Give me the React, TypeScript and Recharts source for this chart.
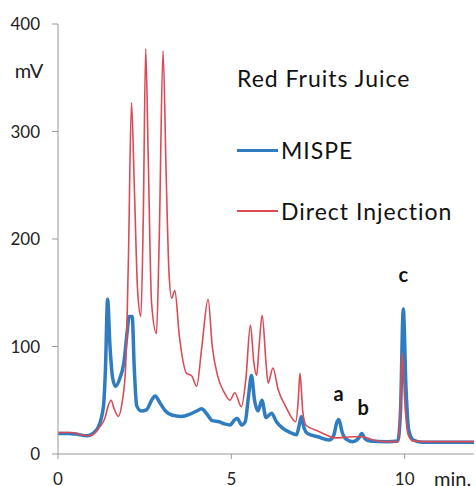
import { LineChart, Line, XAxis, YAxis, Legend, ReferenceDot } from "recharts";

// chromatogram traces, time in min, signal in mV
const mispeTime = [0, 0.3, 0.5, 0.85, 1.0, 1.16, 1.31, 1.37, 1.43, 1.5, 1.58, 1.66, 1.78, 1.9, 2.0, 2.05, 2.14, 2.2, 2.27, 2.4, 2.55, 2.7, 2.8, 2.95, 3.1, 3.3, 3.55, 3.8, 4.0, 4.14, 4.3, 4.45, 4.65, 4.8, 4.96, 5.1, 5.17, 5.3, 5.4, 5.5, 5.58, 5.67, 5.77, 5.88, 6.0, 6.16, 6.3, 6.48, 6.7, 6.88, 6.96, 7.02, 7.1, 7.2, 7.5, 7.82, 7.95, 8.05, 8.1, 8.2, 8.3, 8.5, 8.68, 8.76, 8.86, 9.0, 9.5, 9.8, 9.88, 9.96, 10.04, 10.12, 10.25, 10.5, 11, 12];
const mispeMv = [19, 19, 18.5, 17, 19, 25, 44, 80, 144, 100, 70, 63, 70, 85, 115, 128, 128, 80, 45, 40, 41, 50, 54, 47, 40, 36, 35, 37, 40, 42, 37, 31, 30, 28, 27, 32, 33, 27, 30, 55, 73, 50, 40, 50, 34, 38, 30, 24, 20, 18, 27, 35, 24, 19, 16, 13, 17, 30, 32, 20, 14, 11.5, 15, 19, 14, 12, 11.5, 12, 40, 135, 60, 22, 13, 11, 11, 11];

const directTime = [0, 0.4, 0.6, 0.85, 1.0, 1.2, 1.35, 1.45, 1.53, 1.62, 1.74, 1.85, 1.95, 2.03, 2.12, 2.2, 2.3, 2.39, 2.46, 2.53, 2.6, 2.7, 2.84, 2.92, 3.03, 3.12, 3.2, 3.28, 3.37, 3.5, 3.71, 3.85, 4.0, 4.15, 4.33, 4.45, 4.61, 4.8, 4.96, 5.1, 5.29, 5.42, 5.55, 5.65, 5.73, 5.8, 5.89, 6.0, 6.06, 6.2, 6.35, 6.57, 6.86, 6.93, 6.98, 7.06, 7.15, 7.53, 8.01, 8.49, 8.78, 9.1, 9.45, 9.8, 9.86, 9.93, 10.0, 10.1, 10.25, 11, 12];
const directMv = [20, 20, 18.5, 17, 18, 25, 33, 45, 50, 42, 35, 48, 80, 180, 327, 250, 150, 128, 220, 377, 280, 140, 112, 200, 375, 260, 170, 145, 152, 110, 75, 73, 63, 100, 144, 100, 72, 57, 50, 57, 44, 70, 120, 85, 73, 100, 129, 85, 66, 80, 60, 44, 30, 50, 75, 40, 27, 21, 15, 16, 16, 13, 11.5, 11.5, 30, 94, 50, 18, 12, 11.5, 11.5];

const peakNames = ["a", "b", "c"];
const peakTime = [8.09, 8.8, 9.96];
const peakMv = [32, 19, 135];

const yTicks = [0, 100, 200, 300, 400];
const xTicks = [0, 5, 10];

const BLUE = "#2f7dc0";
const RED = "#dc4a55";
const FONT = "Lato, 'Open Sans', sans-serif";

const mispeData = mispeTime.map((t, i) => ({ t, v: mispeMv[i] }));
const directData = directTime.map((t, i) => ({ t, v: directMv[i] }));

const renderLegend = () => (
  <div style={{ fontFamily: FONT, color: "#111", letterSpacing: 1 }}>
    <div style={{ fontSize: 23, lineHeight: "28px", marginBottom: 44 }}>Red Fruits Juice</div>
    {[
      { name: "MISPE", color: BLUE, w: 3 },
      { name: "Direct Injection", color: RED, w: 2 },
    ].map((s) => (
      <div key={s.name} style={{ display: "flex", alignItems: "center", height: 28, marginBottom: 33, fontSize: 23 }}>
        <span style={{ display: "inline-block", width: 41, height: s.w, background: s.color, marginRight: 3 }} />
        {s.name}
      </div>
    ))}
  </div>
);

function App() {
  return (
    <div style={{ position: "absolute", left: 0, top: 0, background: "#fff" }}>
      <LineChart width={476} height={486} margin={{ top: 24, right: 2, bottom: 0, left: 0 }}>
        <XAxis
          dataKey="t"
          type="number"
          domain={[0, 12]}
          ticks={xTicks}
          allowDataOverflow
          height={32}
          stroke="#999"
          tickSize={5}
          tickMargin={14}
          tick={{ fill: "#222", fontSize: 17, fontFamily: FONT }}
          label={{ content: () => <text x={434} y={486} fontSize={20} fontFamily={FONT} fill="#222">min.</text> }}
        />
        <YAxis
          dataKey="v"
          type="number"
          domain={[0, 400]}
          ticks={yTicks}
          width={58}
          stroke="#999"
          tickSize={6}
          tickMargin={12}
          tick={{ fill: "#222", fontSize: 17, fontFamily: FONT }}
          label={{ value: "mV", position: "insideTop", offset: 40, fontSize: 20, fontFamily: FONT, fill: "#222" }}
        />
        <Legend
          layout="vertical"
          align="center"
          verticalAlign="middle"
          content={renderLegend}
          wrapperStyle={{ position: "absolute", left: 237, top: 64, width: 236 }}
        />
        <Line data={mispeData} dataKey="v" name="MISPE" type="monotone" stroke={BLUE} strokeWidth={3.5} dot={false} isAnimationActive={false} />
        <Line data={directData} dataKey="v" name="Direct Injection" type="monotone" stroke={RED} strokeWidth={1.6} dot={false} isAnimationActive={false} />
        {peakNames.map((p, i) => (
          <ReferenceDot
            key={p}
            x={peakTime[i]}
            y={peakMv[i]}
            r={0}
            fill="none"
            stroke="none"
            label={{ value: p, position: "top", offset: i === 2 ? 27 : 19, fontSize: 20, fontWeight: 700, fontFamily: FONT, fill: "#111" }}
          />
        ))}
      </LineChart>
    </div>
  );
}

export default App;
